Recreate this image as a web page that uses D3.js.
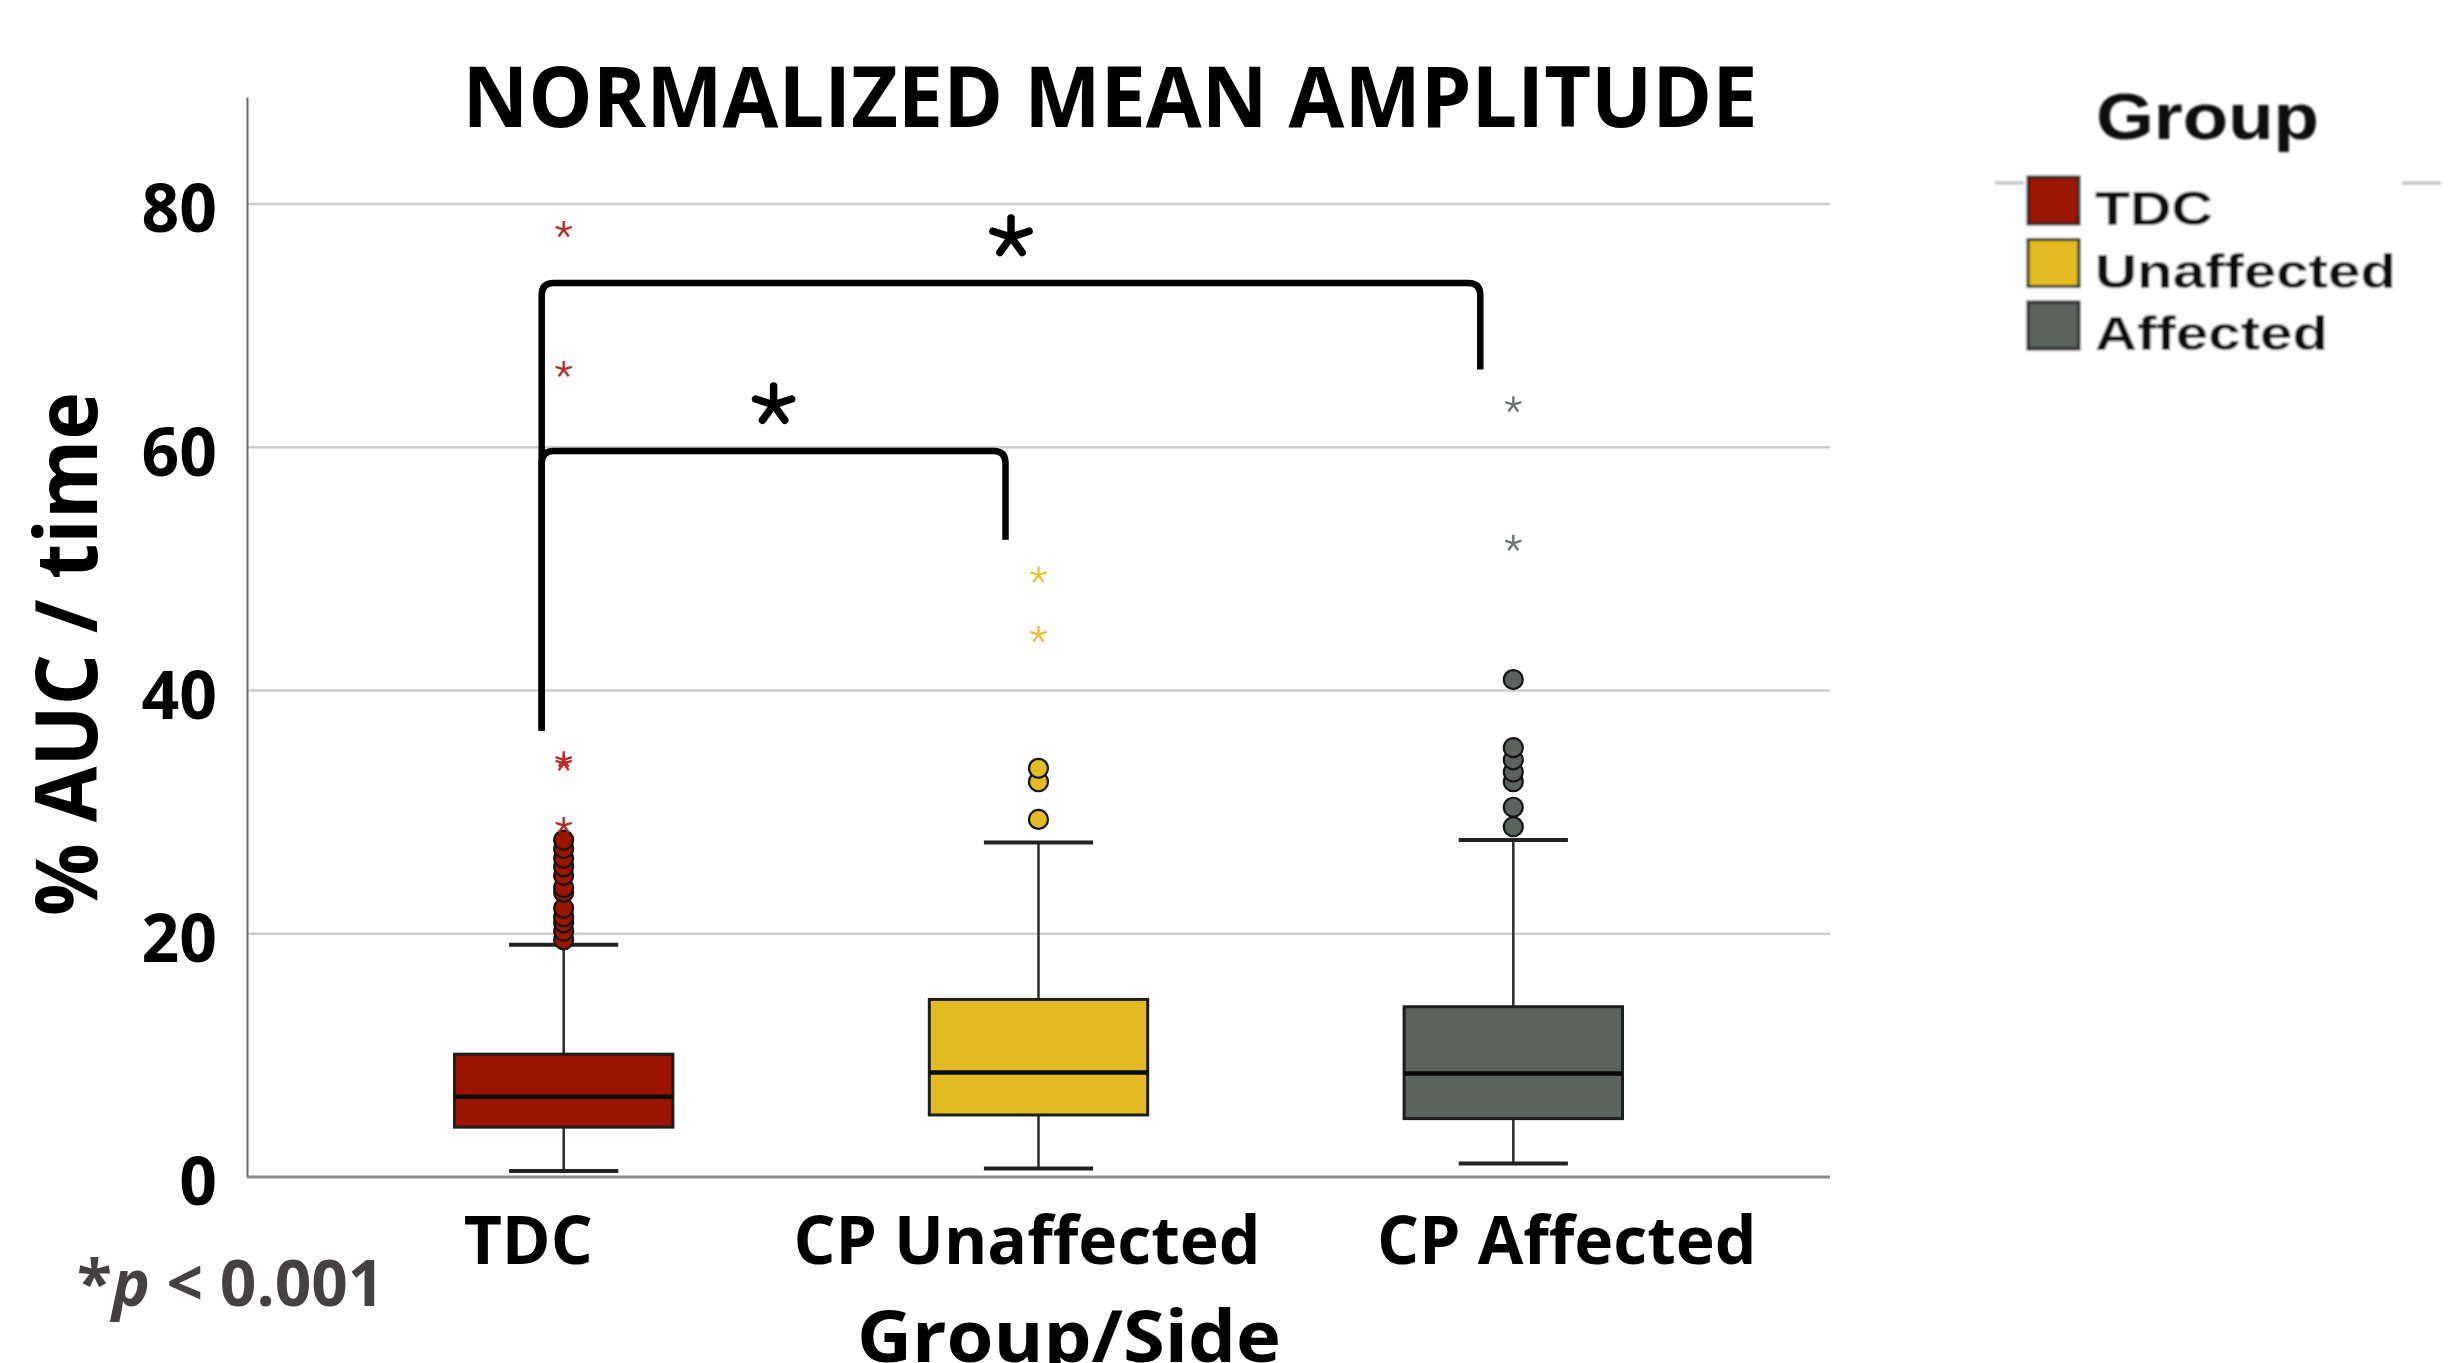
<html>
<script src="https://cdn.jsdelivr.net/npm/d3@7"></script>
<body style="margin:0;background:#fff">
<svg id="chart" width=2456 height=1363></svg>
</body>
<script>

// data
var groups = ["TDC", "CP Unaffected", "CP Affected"];
var legendNames = ["TDC", "Unaffected", "Affected"];
var colors = ["#9a1400", "#e2bc22", "#5a635d"];
var starColors = ["#b3302c", "#e6c23a", "#6d7570"];

var mins    = [0.5, 0.7, 1.1];
var q1s     = [4.1, 5.1, 4.8];
var medians = [6.6, 8.6, 8.5];
var q3s     = [10.1, 14.6, 14.0];
var maxs    = [19.1, 27.5, 27.7];

// circles = outliers, stars = extremes
var outliers = [
  [19.5, 20.2, 20.9, 21.4, 22.1, 23.4, 23.8, 24.8, 25.5, 26.2, 27.0, 27.7],
  [29.4, 32.5, 33.6],
  [28.8, 30.4, 32.5, 33.3, 34.3, 35.3, 40.9]
];
var extremes = [
  [28.9, 34.0, 34.3, 66.4, 77.9],
  [44.6, 49.5],
  [52.1, 63.5]
];

var yTicks = [0, 20, 40, 60, 80];

// significance brackets
var compFrom  = ["TDC", "TDC"];
var compTo    = ["CP Affected", "CP Unaffected"];
var compLevel = [73.5, 59.7];
var compDrop  = [66.4, 52.4];
var compBase  = 36.7;

var svg = d3.select("#chart");

var plotL = 247, plotR = 1830, plotT = 97, plotB = 1177;

var x = d3.scalePoint().domain(groups).range([plotL, plotR]).padding(0.667);
var y = d3.scaleLinear().domain([0, 88.8]).range([plotB, plotT]);
var boxW = x.step() * 0.46;

// gridlines
svg.append("g").selectAll("line").data(yTicks.filter(function(d){ return d > 0; }))
  .enter().append("line")
  .attr("x1", plotL).attr("x2", plotR)
  .attr("y1", function(d){ return y(d); }).attr("y2", function(d){ return y(d); })
  .attr("stroke", "#cdcdcd").attr("stroke-width", 2.5);

// y axis
var yAxis = d3.axisLeft(y).tickValues(yTicks).tickSize(0).tickPadding(30);
var gy = svg.append("g").attr("transform", "translate(" + plotL + ",0)").call(yAxis);
gy.select(".domain").attr("stroke", "#6b6b6b").attr("stroke-width", 2);
gy.selectAll("text")
  .attr("font-family", "Open Sans").attr("font-weight", "bold")
  .attr("font-size", 66).attr("fill", "#000").attr("dy", "0.42em");

// x axis (labels in the original sit a little off the box centres)
var labelShift = [-36, -12, 53];
var xAxis = d3.axisBottom(x).tickSize(0).tickPadding(40);
var gx = svg.append("g").attr("transform", "translate(0," + plotB + ")").call(xAxis);
gx.select(".domain").attr("d", "M" + plotL + ",0H" + plotR).attr("stroke", "#8a8a8a").attr("stroke-width", 3);
gx.selectAll("text")
  .attr("font-family", "Open Sans").attr("font-weight", "bold")
  .attr("font-size", 66).attr("fill", "#000").attr("dy", "0.71em")
  .attr("dx", function(d, i){ return labelShift[i]; });

function asterisk(r) {
  var p = "";
  for (var k = 0; k < 5; k++) {
    var a = -Math.PI / 2 + k * 2 * Math.PI / 5;
    p += "M0,0L" + (r * Math.cos(a)).toFixed(2) + "," + (r * Math.sin(a)).toFixed(2);
  }
  return p;
}

// boxes
groups.forEach(function(g, i) {
  var cx = x(g);
  var b = svg.append("g");
  // whiskers
  b.append("line").attr("x1", cx).attr("x2", cx).attr("y1", y(q3s[i])).attr("y2", y(maxs[i]))
    .attr("stroke", "#2b2b2b").attr("stroke-width", 2.5);
  b.append("line").attr("x1", cx).attr("x2", cx).attr("y1", y(q1s[i])).attr("y2", y(mins[i]))
    .attr("stroke", "#2b2b2b").attr("stroke-width", 2.5);
  [mins[i], maxs[i]].forEach(function(v) {
    b.append("line").attr("x1", cx - boxW / 4).attr("x2", cx + boxW / 4)
      .attr("y1", y(v)).attr("y2", y(v))
      .attr("stroke", "#222").attr("stroke-width", 4);
  });
  b.append("rect")
    .attr("x", cx - boxW / 2).attr("width", boxW)
    .attr("y", y(q3s[i])).attr("height", y(q1s[i]) - y(q3s[i]))
    .attr("fill", colors[i]).attr("stroke", "#1e1e1e").attr("stroke-width", 3);
  b.append("line").attr("x1", cx - boxW / 2).attr("x2", cx + boxW / 2)
    .attr("y1", y(medians[i])).attr("y2", y(medians[i]))
    .attr("stroke", "#0a0a0a").attr("stroke-width", 4.5);

  b.selectAll("circle").data(outliers[i]).enter().append("circle")
    .attr("cx", cx).attr("cy", function(d){ return y(d); }).attr("r", 9.5)
    .attr("fill", colors[i]).attr("stroke", "#151515").attr("stroke-width", 2.2);

  b.selectAll("path.ext").data(extremes[i]).enter().append("path")
    .attr("class", "ext")
    .attr("transform", function(d){ return "translate(" + cx + "," + y(d) + ")"; })
    .attr("d", asterisk(8.5))
    .attr("stroke", starColors[i]).attr("stroke-width", 2.4).attr("fill", "none");
});

// significance brackets
var rr = 12;
compFrom.forEach(function(f, i) {
  var x0 = x(f) - 22, x1 = x(compTo[i]) - 33;
  var yl = y(compLevel[i]), yb = y(compBase), yd = y(compDrop[i]);
  var d = "M" + x0 + "," + yb + "L" + x0 + "," + (yl + rr) +
    "Q" + x0 + "," + yl + " " + (x0 + rr) + "," + yl +
    "L" + (x1 - rr) + "," + yl +
    "Q" + x1 + "," + yl + " " + x1 + "," + (yl + rr) +
    "L" + x1 + "," + yd;
  svg.append("path").attr("d", d).attr("fill", "none")
    .attr("stroke", "#000").attr("stroke-width", 6.5).attr("stroke-linejoin", "round");
  svg.append("path")
    .attr("transform", "translate(" + ((x0 + x1) / 2) + "," + (yl - 46) + ")")
    .attr("d", asterisk(19))
    .attr("stroke", "#000").attr("stroke-width", 7.5).attr("stroke-linecap", "round").attr("fill", "none");
});

// title
svg.append("text").attr("x", 1110).attr("y", 127)
  .attr("text-anchor", "middle")
  .attr("font-family", "Open Sans").attr("font-weight", "bold").attr("font-size", 84)
  .attr("textLength", 1295).attr("lengthAdjust", "spacingAndGlyphs")
  .text("NORMALIZED MEAN AMPLITUDE");

// y title
svg.append("text").attr("transform", "translate(97,654) rotate(-90)")
  .attr("text-anchor", "middle")
  .attr("font-family", "Open Sans").attr("font-weight", "bold").attr("font-size", 86)
  .attr("textLength", 524).attr("lengthAdjust", "spacingAndGlyphs")
  .text("% AUC / time");

// x title
svg.append("text").attr("x", 1069).attr("y", 1362)
  .attr("text-anchor", "middle")
  .attr("font-family", "Open Sans").attr("font-weight", "bold").attr("font-size", 72)
  .attr("textLength", 424).attr("lengthAdjust", "spacingAndGlyphs")
  .text("Group/Side");

// p-value note
var note = svg.append("text").attr("x", 77).attr("y", 1306)
  .attr("font-family", "Open Sans").attr("font-weight", "bold").attr("font-size", 64)
  .attr("fill", "#454141");
note.append("tspan").text("*");
note.append("tspan").attr("font-style", "italic").text("p");
note.append("tspan").text(" < 0.001");

// legend
var leg = svg.append("g").attr("filter", "url(#soft)");
svg.append("defs").append("filter").attr("id", "soft")
  .append("feGaussianBlur").attr("stdDeviation", 1.1);
leg.append("line").attr("x1", 1995).attr("x2", 2441).attr("y1", 183).attr("y2", 183)
  .attr("stroke", "#bdbdbd").attr("stroke-width", 3);
leg.append("rect").attr("x", 2024).attr("y", 170).attr("width", 378).attr("height", 190).attr("fill", "#fff");
leg.append("text").attr("x", 2096).attr("y", 139)
  .attr("font-family", "Liberation Sans").attr("font-weight", "bold").attr("font-size", 64)
  .attr("fill", "#111").attr("textLength", 223).attr("lengthAdjust", "spacingAndGlyphs")
  .text("Group");
var legW = [118, 301, 233];
legendNames.forEach(function(n, i) {
  var ry = 177 + i * 62.5;
  leg.append("rect").attr("x", 2028).attr("y", ry).attr("width", 51).attr("height", 47)
    .attr("fill", colors[i]).attr("stroke", "#222").attr("stroke-width", 3);
  leg.append("text").attr("x", 2095).attr("y", ry + 48)
    .attr("font-family", "Liberation Sans").attr("font-weight", "bold").attr("font-size", 49)
    .attr("fill", "#111").attr("textLength", legW[i]).attr("lengthAdjust", "spacingAndGlyphs")
    .text(n);
});

</script>
</html>
